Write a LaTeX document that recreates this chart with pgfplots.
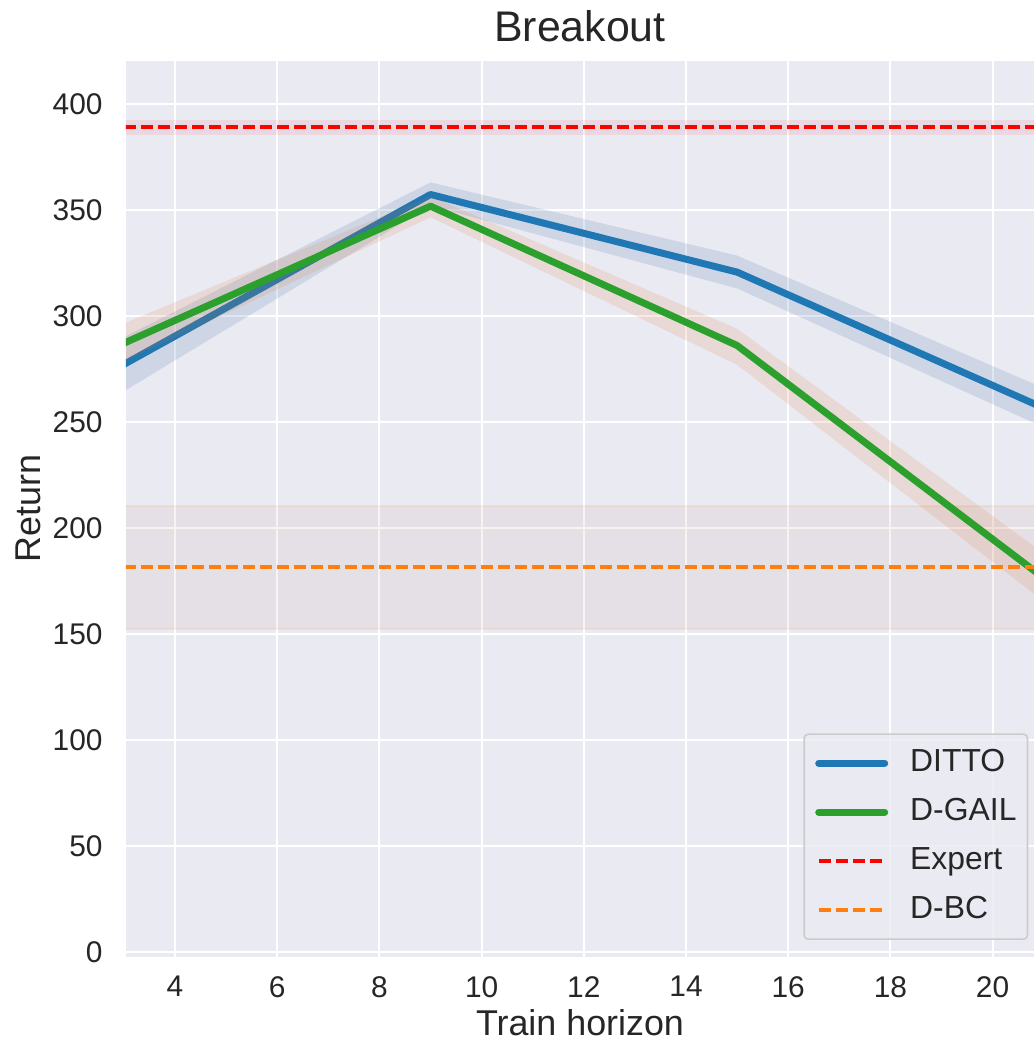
\documentclass[border=0pt]{standalone}
\usepackage{fontspec}
\setmainfont{Liberation Sans}
\usepackage{pgfplots}
\pgfplotsset{compat=1.18}
\definecolor{bg}{HTML}{EAEAF2}
\definecolor{txt}{HTML}{262626}
\definecolor{cblue}{HTML}{1F77B4}
\definecolor{cgreen}{HTML}{2CA02C}
\definecolor{corange}{HTML}{FF7F0E}
\definecolor{cred}{HTML}{FF0000}
\definecolor{lgedge}{HTML}{CCCCCC}
\definecolor{bandblue}{HTML}{5E86B6}
\definecolor{bandgail}{HTML}{DD7237}
\definecolor{bandbc}{HTML}{C2907A}

\begin{document}
\begin{tikzpicture}
\begin{axis}[
  scale only axis, width=454bp, height=448bp,
  xmin=3.04, xmax=20.81, ymin=-2.1, ymax=420.4,
  axis background/.style={fill=bg},
  axis line style={draw=none},
  major tick length=0pt,
  grid=major, grid style={white, line width=1bp},
  xtick={4,6,...,20}, ytick={0,50,...,400},
  /pgf/number format/assume math mode=true,
  tick label style={font=\fontsize{15}{18}\selectfont, text=txt, inner sep=0pt},
  xticklabel style={anchor=north, yshift=-9.6bp},
  yticklabel style={anchor=east, xshift=-11.5bp},
  title={Breakout},
  title style={at={(axis description cs:0.5,1.0086)}, anchor=base, font=\fontsize{21.5}{25}\selectfont, text=txt},
  xlabel={Train horizon},
  xlabel style={at={(axis description cs:0.5,-0.0874)}, anchor=base, font=\fontsize{18}{21}\selectfont, text=txt},
  ylabel={Return},
  ylabel style={at={(axis description cs:-0.0938,0.5)}, anchor=base, rotate=0, font=\fontsize{18}{21}\selectfont, text=txt},
  legend cell align=left,
  legend image code/.code={\draw[#1] (0bp,0bp) -- (33bp,0bp);},
  legend style={at={(axis description cs:1,0)}, anchor=south east, xshift=-2.85bp, yshift=8.35bp,
    fill=bg, fill opacity=0.8, text opacity=1, draw=lgedge, line width=0.8bp, rounded corners=2bp,
    inner xsep=5.5bp, inner ysep=7bp, font=\fontsize{16}{19}\selectfont, text=txt, row sep=9.5bp,
    nodes={inner sep=0pt, text height=11.5bp, text depth=3.5bp},
    /tikz/every odd column/.style={column sep=11bp}},
]
\coordinate (bl) at (rel axis cs:0,0);
\coordinate (tr) at (rel axis cs:1,1);

% D-BC band
\addplot[forget plot, fill=bandbc, fill opacity=0.1, draw=corange, draw opacity=0.1, line width=1.2bp]
  coordinates {(2,152.5) (22,152.5) (22,210.5) (2,210.5)} -- cycle;
% Expert band
\addplot[forget plot, fill=cred, fill opacity=0.08, draw=none]
  coordinates {(2,385.5) (22,385.5) (22,392.5) (2,392.5)} -- cycle;
% DITTO band
\addplot[forget plot, fill=bandblue, fill opacity=0.2, draw=none]
  coordinates {(3,264.5) (9,352) (15,313) (21,247.5) (21,266) (15,328.5) (9,363) (3,290)} -- cycle;
% DITTO
\addplot[cblue, line width=3.5bp, line join=round, line cap=round]
  coordinates {(3,277.2) (9,357.3) (15,320.7) (21,256.6)};
\addlegendentry{DITTO}
% D-GAIL band
\addplot[forget plot, fill=bandgail, fill opacity=0.15, draw=none]
  coordinates {(3,278.5) (9,346.6) (15,277) (21,165.5) (21,188) (15,294) (9,356.5) (3,296.5)} -- cycle;
% D-GAIL
\addplot[cgreen, line width=3.5bp, line join=round, line cap=round]
  coordinates {(3,287.2) (9,351.8) (15,286.1) (21,176.5)};
\addlegendentry{D-GAIL}
% Expert
\addplot[cred, line width=2bp, dash pattern=on 5.9bp off 2.6bp]
  coordinates {(2,389) (22,389)};
\addlegendentry{Expert}
% D-BC
\addplot[corange, line width=2bp, dash pattern=on 5.9bp off 2.6bp]
  coordinates {(2,181.5) (22,181.5)};
\addlegendentry{D-BC}
\end{axis}
\pgfresetboundingbox
\path[use as bounding box] ([shift={(-63bp,-42.65bp)}]bl) rectangle ([shift={(0bp,30.35bp)}]tr);
\end{tikzpicture}
\end{document}
